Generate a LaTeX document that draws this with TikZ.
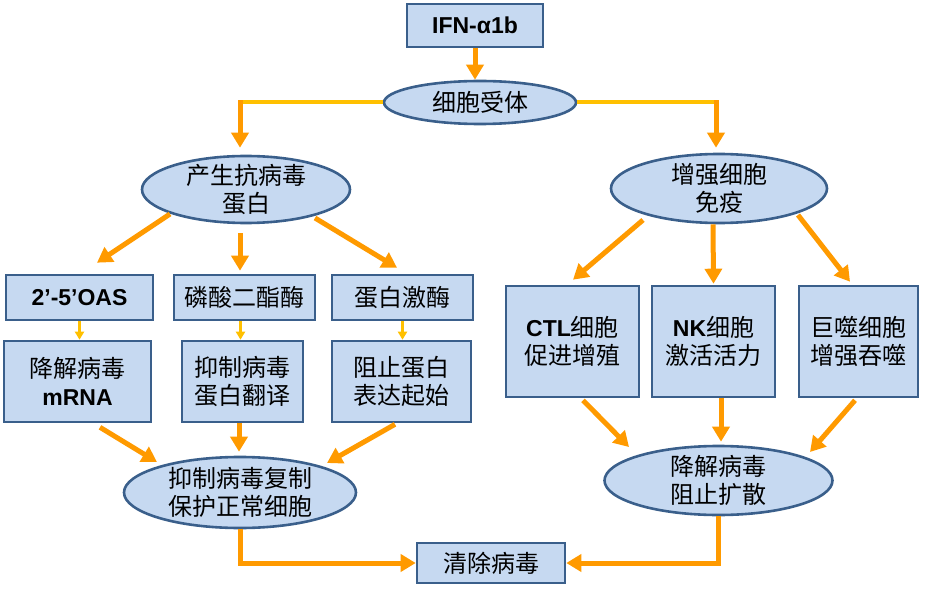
\documentclass[tikz,border=0pt]{standalone}
\usepackage{fontspec}
\setmainfont{Liberation Sans}
\newfontfamily\cjk{Noto Sans CJK SC}
\usetikzlibrary{arrows.meta,shapes.geometric,calc}
\definecolor{boxfill}{HTML}{C6D9F1}
\definecolor{bord}{HTML}{3A5F8B}
\definecolor{orn}{HTML}{FF9A00}
\definecolor{yel}{HTML}{FFC000}
\newcommand\lb[1]{{\rmfamily\bfseries\fontsize{23}{28}\selectfont #1}}
\begin{document}
\begin{tikzpicture}[x=1pt,y=-1pt,
  base/.style={draw=bord, fill=boxfill, line width=2.6pt, inner sep=0pt, align=center,
    font=\cjk\fontsize{24}{28}\selectfont},
  rbox/.style={base, rectangle},
  ell/.style={base, ellipse, inner sep=-6pt},
  arr/.style={draw=orn, line width=5pt, -{Triangle[width=17pt,length=15pt]}},
  sarr/.style={draw=yel, line width=2.5pt, -{Triangle[width=9pt,length=8pt]}},
  hline/.style={draw=yel, line width=4pt},
]
\useasboundingbox (0,0) rectangle (925,593);

% nodes
\node[rbox, minimum width=136pt, minimum height=43pt] (ifn) at (475,25.5) {\lb{IFN-α1b}};
\node[ell, minimum width=192pt, minimum height=43pt] (rec) at (480,102.5) {细胞受体};

\node[ell, minimum width=208pt, minimum height=67pt] (av) at (246,189.5) {产生抗病毒\\蛋白};
\node[ell, minimum width=216pt, minimum height=69pt] (im) at (719,188.5) {增强细胞\\免疫};

\node[rbox, minimum width=147pt, minimum height=45pt] (oas) at (79.5,297.5) {\lb{2’-5’OAS}};
\node[rbox, minimum width=141pt, minimum height=45pt] (pde) at (244.5,297.5) {磷酸二酯酶};
\node[rbox, minimum width=141pt, minimum height=45pt] (pk) at (402.5,297.5) {蛋白激酶};

\node[rbox, minimum width=147pt, minimum height=81pt] (mrna) at (77.5,381.5) {降解病毒\\\lb{mRNA}};
\node[rbox, minimum width=121pt, minimum height=81pt] (tr) at (242.5,381.5) {抑制病毒\\蛋白翻译};
\node[rbox, minimum width=139pt, minimum height=81pt] (init) at (401.5,381.5) {阻止蛋白\\表达起始};

\node[rbox, minimum width=133pt, minimum height=111pt] (ctl) at (572.5,341.5) {\lb{CTL}细胞\\促进增殖};
\node[rbox, minimum width=123pt, minimum height=111pt] (nk) at (713.5,341.5) {\lb{NK}细胞\\激活活力};
\node[rbox, minimum width=119pt, minimum height=111pt] (mac) at (858.5,341.5) {巨噬细胞\\增强吞噬};

\node[ell, minimum width=232pt, minimum height=71pt] (rep) at (240,492.5) {抑制病毒复制\\保护正常细胞};
\node[ell, minimum width=228pt, minimum height=69pt] (spr) at (718.5,480.5) {降解病毒\\阻止扩散};

\node[rbox, minimum width=148pt, minimum height=40pt] (clr) at (491,563) {清除病毒};

% top connectors
\draw[arr] (ifn.south) -- (ifn.south |- rec.north);
\coordinate (tL) at ($(av.north)+(-6,-7)$);
\coordinate (tR) at ($(im.north)+(-3,-5)$);
\draw[hline] (rec.west) -- ($(rec.west -| tL)+(-2.5,0)$);
\draw[hline] (rec.east) -- ($(rec.east -| tR)+(2.5,0)$);
\draw[arr] ($(rec.west -| tL)+(0,-2)$) -- (tL);
\draw[arr] ($(rec.east -| tR)+(0,-2)$) -- (tR);

% antiviral protein branch
\draw[arr] ($(av.center)+(-76,24.5)$) -- ($(oas.north)+(17.5,-11)$);
\draw[arr] ($(av.south)+(-6,9)$) -- ($(pde.north)+(-4.5,-3)$);
\draw[arr] ($(av.center)+(69,28.5)$) -- ($(pk.north)+(-5.5,-6)$);

\draw[sarr] (oas.south) -- (oas.south |- mrna.north);
\draw[sarr] ($(pde.south)+(-4,0)$) -- ($(pde.south |- tr.north)+(-4,0)$);
\draw[sarr] (pk.south) -- (pk.south |- init.north);

\draw[arr] ($(mrna.south)+(22.5,4)$) -- ($(rep.center)+(-83,-30.5)$);
\draw[arr] ($(tr.south)+(-3.5,0)$) -- ($(rep.north)+(-1,-4)$);
\draw[arr] ($(init.south)+(-6.5,1)$) -- ($(rep.center)+(87,-29.5)$);

% immunity branch
\draw[arr] ($(im.center)+(-76,31.5)$) -- ($(ctl.north)+(0.5,-5)$);
\draw[arr] ($(im.south)+(-6,0)$) -- ($(nk.north)+(0,-1)$);
\draw[arr] ($(im.center)+(79,26.5)$) -- ($(mac.north)+(-8.5,-3)$);

\draw[arr] ($(ctl.south)+(10.5,2)$) -- ($(spr.center)+(-89.5,-33.5)$);
\draw[arr] ($(nk.south)+(7.5,0)$) -- ($(spr.north)+(2.5,-3)$);
\draw[arr] ($(mac.south)+(-3.5,2)$) -- ($(spr.center)+(91.5,-28.5)$);

% bottom
\draw[arr] (rep.south) |- (clr.west);
\draw[arr] (spr.south) |- (clr.east);
\end{tikzpicture}
\end{document}
